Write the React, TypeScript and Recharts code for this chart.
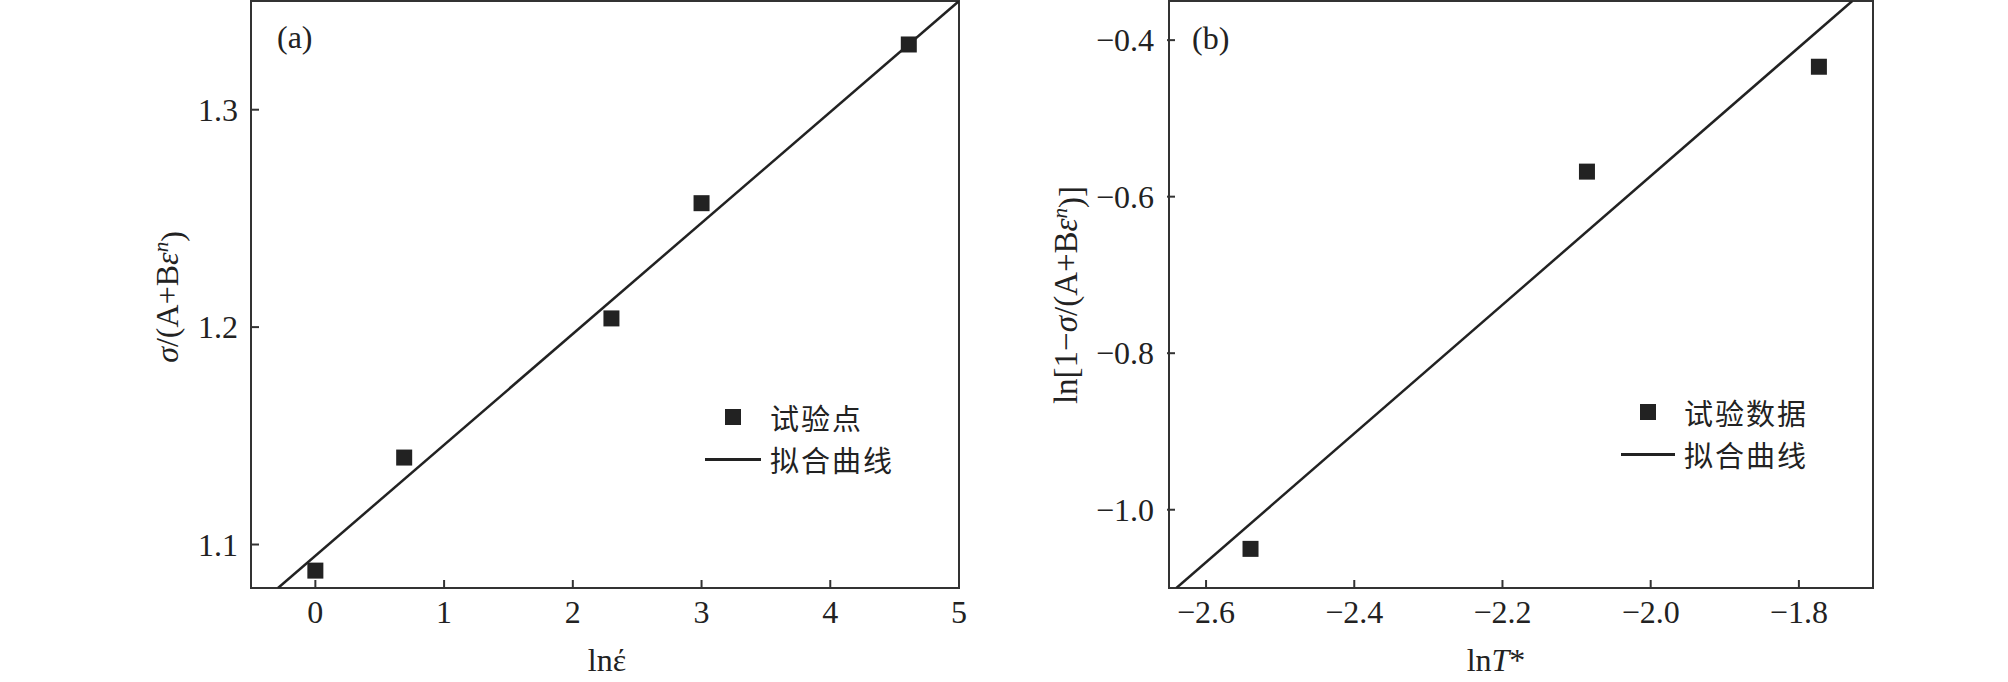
import React from "react";
import {
  ComposedChart,
  Scatter,
  XAxis,
  YAxis,
  ReferenceArea,
  Legend,
  Label,
} from "recharts";

// (a) strain-rate term
const strainLogs = [0, 0.69, 2.3, 3.0, 4.61];
const stressRatios = [1.088, 1.14, 1.204, 1.257, 1.33];
const fitStrainX = [-0.29, 5.0];
const fitStrainY = [1.08, 1.35];
const strainTicks = [0, 1, 2, 3, 4, 5];
const ratioTicks = [1.1, 1.2, 1.3];

// (b) temperature term
const tempLogs = [-2.54, -2.086, -1.773];
const tempTerms = [-1.05, -0.568, -0.434];
const fitTempX = [-2.64, -1.728];
const fitTempY = [-1.1, -0.35];
const tempTicks = [-2.6, -2.4, -2.2, -2.0, -1.8];
const termTicks = [-1.0, -0.8, -0.6, -0.4];

const INK = "#222";
const FRAME = "#333";
const SERIF = '"Liberation Serif", "Times New Roman", serif';
const CJK = '"Noto Sans CJK SC", sans-serif';

const toPoints = (xs: number[], ys: number[]) => xs.map((x, i) => ({ x, y: ys[i] }));

const fmt = (digits: number) => (v: number) => v.toFixed(digits).replace("-", "\u2212");

function YTick(props: any) {
  const { x, y, payload, format } = props;
  const axisX = x + 13;
  return (
    <g>
      <line x1={axisX} x2={axisX + 8} y1={y} y2={y} stroke={FRAME} strokeWidth={2} />
      <text x={x} y={y} dy="0.35em" textAnchor="end" fontSize={32} fontFamily={SERIF} fill={INK}>
        {format(payload.value)}
      </text>
    </g>
  );
}

function XTick(props: any) {
  const { x, y, payload, format } = props;
  const axisY = y - 12;
  return (
    <g>
      <line x1={x} x2={x} y1={axisY} y2={axisY - 8} stroke={FRAME} strokeWidth={2} />
      <text x={x} y={y} dy="0.71em" textAnchor="middle" fontSize={32} fontFamily={SERIF} fill={INK}>
        {format(payload.value)}
      </text>
    </g>
  );
}

function Square(props: any) {
  const { cx, cy } = props;
  if (cx == null || cy == null) return <g />;
  return <rect x={cx - 8} y={cy - 8} width={16} height={16} fill={INK} />;
}

function LegendBox({ label, iconWidth }: { label: string; iconWidth: number }) {
  const row = { display: "flex", alignItems: "center", height: 42 } as const;
  const text = { marginLeft: 9, fontSize: 29, letterSpacing: 2, lineHeight: "42px" };
  return (
    <div style={{ fontFamily: CJK, color: INK }}>
      <div style={row}>
        <div style={{ width: iconWidth, display: "flex", justifyContent: "center" }}>
          <div style={{ width: 16, height: 16, background: INK }} />
        </div>
        <span style={text}>{label}</span>
      </div>
      <div style={row}>
        <div style={{ width: iconWidth, height: 3, background: INK }} />
        <span style={text}>拟合曲线</span>
      </div>
    </div>
  );
}

const Sup = ({ children }: { children: React.ReactNode }) => (
  <>
    <tspan dy="-0.45em" fontSize={21} fontStyle="italic">{children}</tspan>
    <tspan dy="0.45em">{")"}</tspan>
  </>
);

function PanelA() {
  return (
    <ComposedChart width={1000} height={682} margin={{ top: 1, right: 41, bottom: 0, left: 0 }}>
      <XAxis
        type="number"
        dataKey="x"
        domain={[-0.5, 5]}
        ticks={strainTicks}
        allowDataOverflow
        height={94}
        axisLine={false}
        tickLine={false}
        tickSize={0}
        tickMargin={12}
        tick={(p: any) => <XTick {...p} format={fmt(0)} />}
      >
        <Label
          content={({ viewBox }: any) => (
            <text x={viewBox.x + viewBox.width / 2 + 2} y={viewBox.y + 83} textAnchor="middle" fontSize={32} fontFamily={SERIF} fill={INK}>
              lnέ
            </text>
          )}
        />
      </XAxis>
      <YAxis
        type="number"
        dataKey="y"
        domain={[1.08, 1.35]}
        ticks={ratioTicks}
        allowDataOverflow
        width={251}
        axisLine={false}
        tickLine={false}
        tickSize={0}
        tickMargin={13}
        tick={(p: any) => <YTick {...p} format={fmt(1)} />}
      >
        <Label
          content={() => (
            <text transform="translate(168,297) rotate(-90)" textAnchor="middle" dy="0.3em" fontSize={32} fontFamily={SERIF} fill={INK}>
              <tspan fontStyle="italic">σ</tspan>
              <tspan>/(A+B</tspan>
              <tspan fontStyle="italic">ε</tspan>
              <Sup>n</Sup>
            </text>
          )}
        />
      </YAxis>
      <ReferenceArea x1={-0.5} x2={5} y1={1.08} y2={1.35} fill="none" stroke={FRAME} strokeWidth={2} ifOverflow="visible">
        <Label
          content={({ viewBox }: any) => (
            <text x={viewBox.x + 26} y={viewBox.y + 47} fontSize={32} fontFamily={SERIF} fill={INK}>
              (a)
            </text>
          )}
        />
      </ReferenceArea>
      <Scatter
        data={toPoints(fitStrainX, fitStrainY)}
        line={{ stroke: INK, strokeWidth: 2.5 }}
        lineType="joint"
        shape={() => <g />}
        isAnimationActive={false}
      />
      <Scatter data={toPoints(strainLogs, stressRatios)} shape={Square} isAnimationActive={false} />
      <Legend
        layout="vertical"
        align="center"
        verticalAlign="middle"
        wrapperStyle={{ left: 705, top: 396, width: "auto", height: "auto" }}
        content={() => <LegendBox label="试验点" iconWidth={56} />}
      />
    </ComposedChart>
  );
}

function PanelB() {
  return (
    <ComposedChart width={1008} height={682} margin={{ top: 1, right: 135, bottom: 0, left: 0 }}>
      <XAxis
        type="number"
        dataKey="x"
        domain={[-2.65, -1.7]}
        ticks={tempTicks}
        allowDataOverflow
        height={94}
        axisLine={false}
        tickLine={false}
        tickSize={0}
        tickMargin={12}
        tick={(p: any) => <XTick {...p} format={fmt(1)} />}
      >
        <Label
          content={({ viewBox }: any) => (
            <text x={viewBox.x + viewBox.width / 2 - 25} y={viewBox.y + 83} textAnchor="middle" fontSize={32} fontFamily={SERIF} fill={INK}>
              <tspan>ln</tspan>
              <tspan fontStyle="italic">T</tspan>
              <tspan>*</tspan>
            </text>
          )}
        />
      </XAxis>
      <YAxis
        type="number"
        dataKey="y"
        domain={[-1.1, -0.35]}
        ticks={termTicks}
        allowDataOverflow
        width={169}
        axisLine={false}
        tickLine={false}
        tickSize={0}
        tickMargin={15}
        tick={(p: any) => <YTick {...p} format={fmt(1)} />}
      >
        <Label
          content={() => (
            <text transform="translate(67,295) rotate(-90)" textAnchor="middle" dy="0.3em" fontSize={33} fontFamily={SERIF} fill={INK}>
              <tspan>ln[1−</tspan>
              <tspan fontStyle="italic">σ</tspan>
              <tspan>/(A+B</tspan>
              <tspan fontStyle="italic">ε</tspan>
              <Sup>n</Sup>
              <tspan>]</tspan>
            </text>
          )}
        />
      </YAxis>
      <ReferenceArea x1={-2.65} x2={-1.7} y1={-1.1} y2={-0.35} fill="none" stroke={FRAME} strokeWidth={2} ifOverflow="visible">
        <Label
          content={({ viewBox }: any) => (
            <text x={viewBox.x + 23} y={viewBox.y + 48} fontSize={32} fontFamily={SERIF} fill={INK}>
              (b)
            </text>
          )}
        />
      </ReferenceArea>
      <Scatter
        data={toPoints(fitTempX, fitTempY)}
        line={{ stroke: INK, strokeWidth: 2.5 }}
        lineType="joint"
        shape={() => <g />}
        isAnimationActive={false}
      />
      <Scatter data={toPoints(tempLogs, tempTerms)} shape={Square} isAnimationActive={false} />
      <Legend
        layout="vertical"
        align="center"
        verticalAlign="middle"
        wrapperStyle={{ left: 621, top: 391, width: "auto", height: "auto" }}
        content={() => <LegendBox label="试验数据" iconWidth={54} />}
      />
    </ComposedChart>
  );
}

export default function App() {
  return (
    <div style={{ position: "absolute", left: 0, top: 0, width: 2008, height: 682, background: "#fff" }}>
      <div style={{ position: "absolute", left: 0, top: 0 }}>
        <PanelA />
      </div>
      <div style={{ position: "absolute", left: 1000, top: 0 }}>
        <PanelB />
      </div>
    </div>
  );
}
